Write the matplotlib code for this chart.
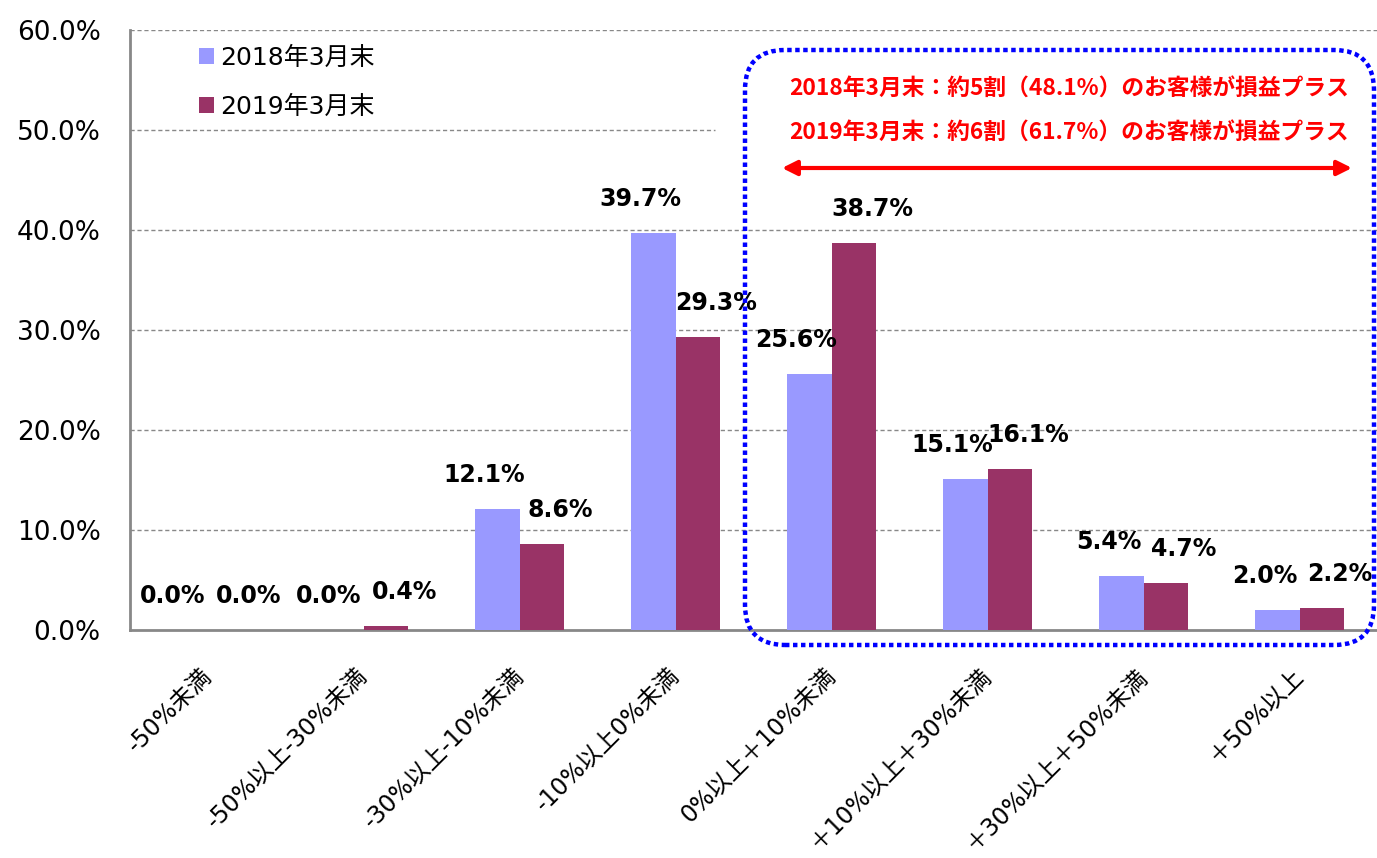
import numpy as np
import matplotlib
matplotlib.use("Agg")
import matplotlib.pyplot as plt
from matplotlib.patches import FancyBboxPatch

plt.rcParams['font.family'] = ['DejaVu Sans', 'Noto Sans CJK JP']

# data (percent of customers)
categories = ['-50%未満', '-50%以上-30%未満', '-30%以上-10%未満', '-10%以上0%未満',
              '0%以上＋10%未満', '＋10%以上＋30%未満', '＋30%以上＋50%未満', '＋50%以上']
series_names = ['2018年3月末', '2019年3月末']
values_2018 = [0.0, 0.0, 12.1, 39.7, 25.6, 15.1, 5.4, 2.0]
values_2019 = [0.0, 0.4, 8.6, 29.3, 38.7, 16.1, 4.7, 2.2]
note_lines = ['2018年3月末：約5割（48.1%）のお客様が損益プラス',
              '2019年3月末：約6割（61.7%）のお客様が損益プラス']

color_2018 = '#9999FF'
color_2019 = '#993366'
grey = '#888888'

fig = plt.figure(figsize=(13.77, 8.58), dpi=100)
ax = fig.add_axes([0.0944, 0.2657, 0.906, 0.6993])

x = np.arange(len(categories))
w = 0.285
bars_a = ax.bar(x - w / 2, values_2018, w, color=color_2018, label=series_names[0], zorder=3)
bars_b = ax.bar(x + w / 2, values_2019, w, color=color_2019, label=series_names[1], zorder=3)

ax.set_xlim(-0.5, len(categories) - 0.5)
ax.set_ylim(0, 60)
yticks = np.arange(0, 61, 10)
ax.set_yticks(yticks)
ax.set_yticklabels([f'{v:.1f}%' for v in yticks], fontsize=19)

# dashed gridlines; the 50% line is hidden behind the note box on the right
for v in yticks[1:]:
    xmax = 0.469 if v == 50 else 1.0
    ax.axhline(v, xmax=xmax, color=grey, lw=1, ls=(0, (3, 2)), zorder=1)

ax.set_xticks(x)
ax.set_xticklabels(categories, rotation=45, ha='right', va='center',
                   rotation_mode='anchor', fontsize=17)
ax.tick_params(axis='x', length=0, pad=30)
ax.tick_params(axis='y', length=0, pad=21)

for s in ['top', 'right']:
    ax.spines[s].set_visible(False)
for s in ['left', 'bottom']:
    ax.spines[s].set_color(grey)
    ax.spines[s].set_linewidth(2)

# value labels
for bars, dx in [(bars_a, -13), (bars_b, 18)]:
    for b in bars:
        h = b.get_height()
        ax.annotate(f'{h:.1f}%', (b.get_x() + b.get_width() / 2, h),
                    xytext=(dx, 34), textcoords='offset pixels',
                    ha='center', va='center', fontsize=17, fontweight='bold', zorder=5)

leg = ax.legend(loc='upper left', bbox_to_anchor=(0.047, 0.99), frameon=False,
                fontsize=18, handlelength=0.6, handleheight=0.6, handletextpad=0.25,
                labelspacing=1.0, borderaxespad=0)

# note box (figure inches)
inch = fig.dpi_scale_trans
box = FancyBboxPatch((7.45, 2.13), 6.29, 5.95, boxstyle='round,pad=0,rounding_size=0.4',
                     transform=inch, fill=False, edgecolor='#0000FF', lw=3.2,
                     ls=(0, (1, 0.8)), clip_on=False, zorder=6)
fig.patches.append(box)

for i, line in enumerate(note_lines):
    fig.text(10.69, 7.70 - i * 0.44, line, transform=inch, ha='center', va='center',
             color='#FF0000', fontsize=16.4, fontweight='bold', family=['Noto Sans CJK JP'])

ax.annotate('', xy=(13.52, 6.90), xytext=(7.82, 6.90), xycoords=inch, textcoords=inch,
            arrowprops=dict(arrowstyle='<|-|>', color='#FF0000', lw=3, mutation_scale=22,
                            shrinkA=0, shrinkB=0))

fig.savefig('out.png', dpi=100)
